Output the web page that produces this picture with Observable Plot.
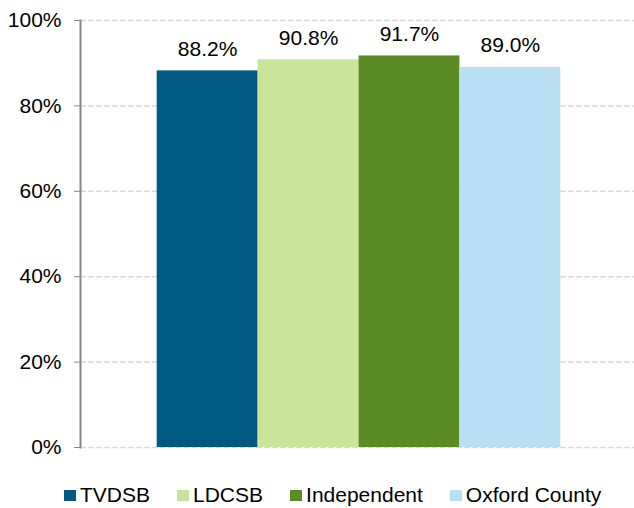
<!DOCTYPE html>
<html>
<head>
<meta charset="utf-8">
<script src="https://cdn.jsdelivr.net/npm/d3@7"></script>
<script src="https://cdn.jsdelivr.net/npm/@observablehq/plot@0.6"></script>
<style>
  body { margin: 0; background: #fff; font-family: "Liberation Sans", Arial, sans-serif; }
  #wrap { position: relative; width: 634px; height: 508px; }
  #legend { position: absolute; left: 64px; top: 483px; display: flex; align-items: center; font-size: 21px; color: #000; }
  .item { display: flex; align-items: center; margin-right: 27px; }
  .sw { width: 12px; height: 11px; margin-right: 4px; }
</style>
</head>
<body>
<div id="wrap"><div id="chart"></div><div id="legend"></div></div>
<script>
const categories = ["TVDSB", "LDCSB", "Independent", "Oxford County"];
const values = [0.882, 0.908, 0.917, 0.890];
const colors = ["#025A82", "#C9E49B", "#5B8C23", "#BADFF5"];
const yTicks = [0, 0.2, 0.4, 0.6, 0.8, 1.0];

const data = categories.map((c, i) => ({category: c, value: values[i]}));

const chart = Plot.plot({
  width: 634,
  height: 470,
  marginLeft: 80,
  marginRight: 0,
  marginTop: 20,
  marginBottom: 23,
  style: {fontFamily: "Liberation Sans, Arial, sans-serif", fontSize: "21px", color: "#000", background: "#fff"},
  x: {domain: categories, paddingInner: 0, paddingOuter: 0.745, align: 0.51, round: false, axis: null},
  y: {domain: [0, 1], label: null},
  color: {domain: categories, range: colors},
  marks: [
    Plot.gridY(yTicks, {stroke: "#d9d9d9", strokeOpacity: 1, strokeWidth: 1.5, strokeDasharray: "6,2"}),
    Plot.barY(data, {x: "category", y: "value", fill: "category"}),
    Plot.text(data, {x: "category", y: "value", text: d => (d.value * 100).toFixed(1) + "%", lineAnchor: "bottom", dy: -15, fill: "#000", fontSize: 21}),
    Plot.axisY(yTicks, {label: null, tickSize: 6, tickPadding: 13, stroke: "#888", tickFormat: d => Math.round(d * 100) + "%", fontSize: 21, fill: "#000"}),
    Plot.frame({anchor: "left", stroke: "#888", strokeWidth: 2})
  ]
});
document.getElementById("chart").appendChild(chart);

const legend = document.getElementById("legend");
categories.forEach((c, i) => {
  const it = document.createElement("div");
  it.className = "item";
  const sw = document.createElement("div");
  sw.className = "sw";
  sw.style.background = colors[i];
  const t = document.createElement("span");
  t.textContent = c;
  it.appendChild(sw); it.appendChild(t);
  legend.appendChild(it);
});
</script>
</body>
</html>
